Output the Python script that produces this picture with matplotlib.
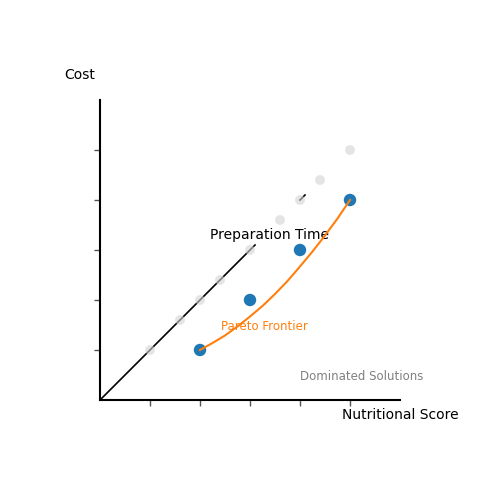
#!/usr/bin/env python3

import matplotlib.pyplot as plt

# Pareto-optimal recipes (nutritional score, cost)
pareto_x = [2, 3, 4, 5]
pareto_y = [1, 2, 3, 4]

# dominated solutions, spread along the preparation time direction
dominated_x = [1, 1.6, 2, 2.4, 3, 3.6, 4, 4.4, 5]
dominated_y = [1, 1.6, 2, 2.4, 3, 3.6, 4, 4.4, 5]

# frontier curve
frontier_x = [2, 2.25, 2.5, 2.75, 3, 3.25, 3.5, 3.75, 4, 4.25, 4.5, 4.75, 5]
frontier_y = [1, 1.14, 1.29, 1.47, 1.67, 1.88, 2.12, 2.38, 2.67, 2.97, 3.29, 3.63, 4]

# third (preparation time) axis, drawn in two pieces around its label
time_axis_a = [0, 3.1]
time_axis_b = [4.0, 4.1]

ticks = [1, 2, 3, 4, 5]


def main():
    fig = plt.figure(figsize=(5, 5), dpi=100)
    ax = fig.add_axes([0.2, 0.2, 0.6, 0.6])

    ax.plot(time_axis_a, time_axis_a, color='black', lw=1.2, zorder=1)
    ax.plot(time_axis_b, time_axis_b, color='black', lw=1.2, zorder=1)

    ax.scatter(dominated_x, dominated_y, s=50, color='lightgray', alpha=0.6,
               edgecolors='none', zorder=2)
    ax.scatter(pareto_x, pareto_y, s=80, color='#1f77b4', edgecolors='none', zorder=3)
    ax.plot(frontier_x, frontier_y, color='#ff7f0e', lw=1.5, zorder=4)

    ax.text(3.4, 3.3, 'Preparation Time', fontsize=10, ha='center', va='center')
    ax.text(3.28, 1.48, 'Pareto Frontier', fontsize=8.5, color='#ff7f0e',
            ha='center', va='center')
    ax.text(5.24, 0.48, 'Dominated Solutions', fontsize=8.5, color='gray',
            ha='center', va='center')

    ax.set_xlim(0, 6)
    ax.set_ylim(0, 6)
    ax.set_xticks(ticks)
    ax.set_yticks(ticks)
    ax.set_xticklabels([])
    ax.set_yticklabels([])
    ax.tick_params(color='#555555', length=4, width=1)

    for side in ['top', 'right']:
        ax.spines[side].set_visible(False)
    for side in ['left', 'bottom']:
        ax.spines[side].set_linewidth(1.5)

    fig.text(0.16, 0.85, 'Cost', fontsize=10, ha='center', va='center')
    fig.text(0.8, 0.17, 'Nutritional Score', fontsize=10, ha='center', va='center')

    fig.savefig('out.png', dpi=100)


if __name__ == "__main__":
    main()
